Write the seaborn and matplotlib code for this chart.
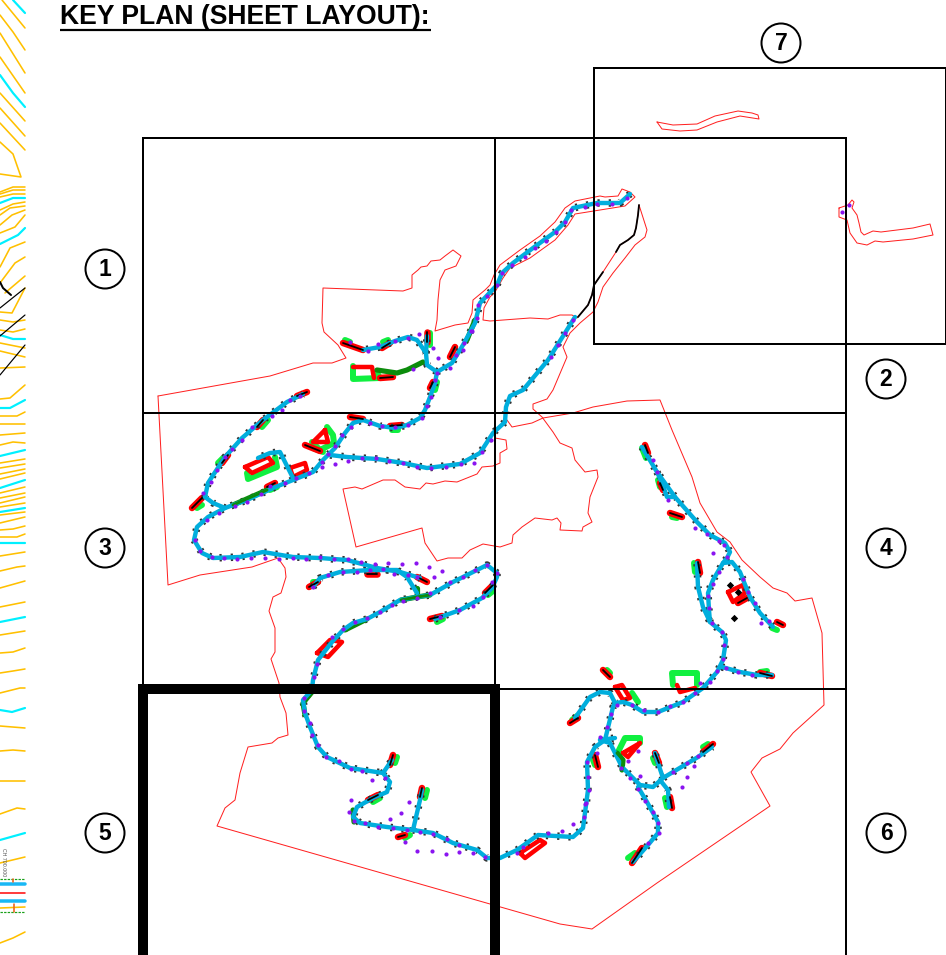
import matplotlib
matplotlib.use('Agg')
import matplotlib.pyplot as plt
import pandas as pd
import seaborn as sns
from matplotlib.patches import Circle

W, H = 946, 955

title = 'KEY PLAN (SHEET LAYOUT):'
sheet_labels = ['1', '2', '3', '4', '5', '6', '7']
label_x = [105, 886, 105, 886, 105, 886, 781]
label_y = [269, 379, 548, 548, 833, 833, 43]

sheet_lines = [
    [(143, 688), (143, 138), (846, 138), (846, 955)],
    [(495, 138), (495, 688)],
    [(143, 413), (846, 413)],
    [(495, 689), (846, 689)],
    [(594, 138), (594, 68), (946, 68), (946, 344), (594, 344), (594, 138)],
]
active_sheet = [(143, 955), (143, 689), (495, 689), (495, 955)]

boundary_main = [
    (158, 396), (270, 376), (313, 363), (332, 363), (346, 358), (338, 345), (324, 332), (322, 323),
    (323, 288), (403, 291), (412, 288), (412, 275), (418, 270), (421, 267), (427, 266), (431, 261),
    (440, 260), (445, 256), (453, 250), (461, 256), (456, 266), (445, 270), (440, 280), (438, 300),
    (437, 320), (435, 331), (455, 325), (468, 323), (472, 313), (473, 300), (485, 290), (490, 285),
    (494, 275), (500, 265), (520, 250), (540, 236), (555, 222), (565, 208), (575, 201), (600, 196),
    (605, 197), (618, 196), (622, 189), (630, 192), (635, 197), (625, 206), (600, 210), (575, 214),
    (568, 225), (555, 240), (530, 258), (510, 268), (503, 278), (495, 292), (490, 297), (484, 308),
    (483, 320), (490, 321), (530, 318), (548, 319), (560, 315), (572, 315), (577, 318), (588, 305),
    (592, 295), (594, 285), (603, 272), (616, 252), (620, 245), (628, 240), (634, 235), (636, 228),
    (638, 215), (639, 205), (647, 230), (645, 237), (635, 245), (625, 258), (613, 273), (603, 287),
    (598, 302), (593, 312), (580, 323), (570, 333), (563, 347), (567, 357), (553, 390), (547, 399),
    (533, 404), (533, 409), (542, 417), (553, 432), (560, 443), (572, 448), (575, 460), (585, 472),
    (597, 470), (598, 477), (590, 497), (588, 513), (592, 522), (583, 527), (582, 531), (560, 530),
    (561, 523), (557, 518), (552, 520), (535, 518), (522, 527), (513, 535), (512, 543), (500, 547),
    (483, 544), (470, 550), (462, 558), (452, 558), (448, 558), (437, 561), (425, 543), (422, 528),
    (356, 547), (343, 489), (355, 487), (362, 489), (383, 480), (395, 480), (405, 487), (420, 489),
    (426, 483), (433, 484), (445, 481), (457, 482), (477, 474), (482, 467), (493, 466), (500, 463),
    (500, 453), (507, 449), (506, 440), (495, 438),
]
boundary_north = [
    (507, 420), (512, 427), (532, 423), (543, 418), (573, 413), (593, 407), (627, 401), (660, 400),
    (672, 430), (692, 477), (700, 503), (717, 532), (730, 542), (742, 560), (760, 577), (773, 588),
    (787, 593), (795, 601), (812, 598), (822, 633), (824, 705), (793, 733), (780, 749), (762, 758),
    (751, 772), (770, 806), (657, 883), (592, 929), (560, 924), (217, 826), (225, 808), (235, 800),
    (240, 773), (248, 747), (272, 743), (278, 738), (288, 735), (286, 713), (280, 697), (279, 683),
    (271, 659), (275, 652), (275, 628), (269, 611), (273, 597), (281, 593), (286, 577), (285, 568),
    (278, 558), (252, 567), (200, 575), (168, 585), (158, 396),
]
boundary_sliver = [
    (657, 122), (673, 125), (697, 124), (715, 116), (738, 111), (752, 113), (758, 115), (759, 119),
    (740, 116), (717, 122), (697, 130), (680, 131), (662, 129), (657, 122),
]
boundary_east = [
    (839, 208), (848, 205), (852, 200), (854, 202), (852, 208), (857, 215), (859, 223), (861, 232),
    (864, 235), (873, 231), (881, 232), (913, 228), (930, 224), (933, 235), (913, 239), (883, 242),
    (875, 241), (867, 245), (857, 243), (850, 233), (847, 220), (839, 217), (839, 208),
]
black_reach_a = [(639, 205), (638, 215), (636, 228), (634, 235), (628, 240), (620, 245), (616, 252)]
black_reach_b = [(603, 272), (594, 285), (592, 295), (588, 305), (578, 317)]

roads = [
    # north corridor down to the first junction
    [(630, 194), (620, 203), (597, 203), (573, 208), (565, 222), (555, 232), (533, 248), (513, 263),
     (502, 273), (497, 285), (480, 303), (475, 323), (463, 345), (452, 363), (437, 372), (427, 365),
     (426, 353), (417, 340), (408, 337), (395, 341), (380, 347), (363, 350)],
    [(426, 353), (427, 336)],
    [(437, 372), (435, 383), (430, 397), (425, 410), (420, 418), (407, 425), (395, 428), (380, 426),
     (363, 420), (353, 423), (345, 433), (335, 448), (323, 460), (313, 472), (293, 480), (273, 488),
     (247, 500), (225, 508), (208, 517), (197, 527), (194, 540), (202, 553), (213, 558), (240, 557),
     (263, 552), (293, 557), (320, 558), (347, 560), (377, 568), (400, 572), (420, 578)],
    [(330, 455), (347, 457), (377, 459), (403, 463), (427, 468), (460, 464), (480, 453), (493, 433),
     (505, 422), (506, 407), (510, 396), (523, 390), (548, 360), (565, 333), (575, 317)],
    [(225, 508), (213, 503), (205, 497), (208, 483), (225, 457), (242, 438), (263, 420), (287, 402),
     (303, 394)],
    [(293, 478), (280, 452), (270, 453), (258, 458)],
    # middle road and the long run to the south-east
    [(313, 587), (320, 578), (340, 572), (370, 570), (397, 570), (407, 577), (417, 593)],
    [(497, 573), (487, 565), (453, 582), (430, 595), (417, 597), (400, 600), (380, 612), (367, 619),
     (353, 623), (343, 630), (332, 642), (318, 660), (313, 680), (312, 690), (303, 700), (305, 713),
     (310, 727), (318, 747), (327, 757), (350, 768), (383, 773), (390, 782), (387, 792), (373, 798),
     (357, 807), (353, 817), (360, 823), (387, 827), (413, 830), (433, 833), (453, 843), (477, 850),
     (487, 858), (500, 858), (517, 850), (538, 835), (573, 837), (583, 828), (588, 790), (587, 762),
     (595, 747), (605, 740), (613, 707), (615, 703)],
    [(435, 619), (460, 610), (482, 598), (492, 588), (497, 577), (497, 573)],
    [(383, 773), (392, 760)],
    [(413, 830), (420, 800), (422, 790)],
    # east side
    [(575, 718), (590, 697), (600, 692), (610, 693), (615, 703), (623, 702), (632, 705), (643, 712),
     (658, 712), (683, 702), (703, 688), (717, 672), (723, 660), (726, 640), (722, 632), (710, 622),
     (703, 607), (698, 587), (697, 563)],
    [(710, 622), (709, 610), (708, 593), (713, 580), (723, 563), (732, 562), (740, 572), (750, 597),
     (760, 613), (773, 627)],
    [(642, 447), (657, 472), (675, 497), (697, 522), (710, 535), (725, 543), (730, 552), (727, 558),
     (723, 563)],
    [(657, 472), (662, 483), (667, 497), (675, 497)],
    [(722, 667), (740, 672), (757, 675), (772, 675)],
    [(600, 740), (610, 743), (615, 753), (622, 767), (640, 785), (653, 787), (663, 778), (698, 757),
     (712, 747)],
    [(600, 740), (615, 738)],
    [(663, 778), (658, 763), (655, 753)],
    [(660, 780), (668, 790), (669, 807)],
    [(638, 787), (647, 802), (658, 822), (658, 833), (648, 845), (633, 862)],
]

green_edge = [
    [(417, 588), (417, 597)], [(312, 692), (303, 703), (305, 715)], [(353, 810), (354, 822)],
    [(475, 320), (467, 340)], [(345, 630), (367, 619)],
]
green_access = [
    [(401, 600), (417, 597), (430, 595)], [(377, 370), (397, 373), (407, 370), (423, 362)],
    [(233, 505), (267, 490)], [(617, 753), (623, 760), (622, 770)],
]

# pads at the end of each spur: red block with a black spine
red_pads = [
    [(343, 343), (363, 350)], [(382, 348), (390, 343)], [(427, 332), (427, 342)],
    [(450, 357), (455, 347)], [(433, 382), (430, 388)], [(297, 396), (307, 392)],
    [(257, 427), (263, 420)], [(222, 463), (228, 455)], [(192, 508), (202, 498)],
    [(267, 487), (275, 483)], [(350, 417), (363, 419)], [(390, 426), (402, 425)],
    [(380, 378), (393, 377)], [(305, 445), (320, 451)], [(367, 574), (377, 574)],
    [(417, 577), (427, 582)], [(309, 587), (318, 582)], [(430, 619), (442, 616)],
    [(485, 593), (493, 585)], [(390, 765), (393, 755)], [(368, 800), (378, 795)],
    [(420, 797), (422, 788)], [(398, 837), (405, 835)], [(570, 723), (578, 718)],
    [(603, 670), (610, 677)], [(760, 673), (772, 676)], [(595, 755), (598, 767)],
    [(655, 753), (659, 763)], [(670, 797), (672, 808)], [(703, 752), (713, 744)],
    [(632, 863), (642, 848)], [(777, 622), (783, 625)], [(645, 445), (648, 453)],
    [(660, 483), (663, 490)], [(670, 513), (682, 517)], [(698, 562), (700, 573)],
    [(738, 603), (747, 598)],
]
red_loops = [
    [(245, 467), (268, 457), (273, 463), (252, 473), (245, 467)],
    [(290, 468), (305, 463), (307, 470), (293, 477), (290, 468)],
    [(325, 430), (313, 442), (328, 442), (325, 430)],
    [(353, 367), (372, 367), (374, 378)],
    [(317, 653), (330, 640), (342, 642), (328, 657), (317, 653)],
    [(520, 853), (540, 840), (545, 843), (525, 858), (520, 853)],
    [(615, 687), (622, 685), (630, 698), (623, 700), (615, 687)],
    [(677, 685), (680, 692), (695, 688)],
    [(623, 753), (640, 743), (628, 757), (623, 753)],
    [(728, 592), (743, 585), (745, 593), (733, 602), (728, 592)],
]
green_pads = [
    [(345, 340), (350, 342)], [(383, 342), (388, 340)], [(430, 333), (430, 345)],
    [(437, 382), (435, 390)], [(262, 427), (268, 420)], [(218, 463), (223, 458)],
    [(197, 508), (202, 505)], [(270, 490), (277, 487)], [(392, 430), (398, 430)],
    [(313, 448), (323, 452)], [(313, 582), (318, 582)], [(437, 622), (443, 619)],
    [(488, 595), (493, 591)], [(395, 763), (397, 757)], [(373, 802), (380, 798)],
    [(425, 798), (427, 790)], [(405, 838), (410, 835)], [(572, 720), (577, 716)],
    [(607, 670), (610, 673)], [(632, 693), (638, 702)], [(760, 672), (767, 671)],
    [(593, 760), (595, 765)], [(653, 758), (655, 763)], [(665, 798), (667, 807)],
    [(703, 747), (708, 744)], [(628, 858), (635, 853)], [(772, 628), (777, 630)],
    [(642, 448), (646, 458)], [(658, 480), (660, 487)], [(672, 517), (677, 518)],
    [(694, 563), (695, 572)],
]
green_loops = [
    [(353, 366), (353, 379), (380, 378), (377, 373)],
    [(247, 473), (248, 479), (277, 467), (275, 457)],
    [(327, 427), (333, 435), (334, 443), (320, 450), (312, 442)],
    [(673, 685), (672, 673), (697, 673), (697, 685)],
    [(618, 752), (625, 738), (640, 738), (640, 743)],
]

# survey markers standing off the roads
purple_x = [842, 849, 419, 433, 438, 282, 335, 322, 402, 388, 416, 429, 442, 434, 394, 372, 351, 349,
            409, 401, 390, 405, 417, 432, 446, 459, 548, 562, 573, 694, 687, 682, 640, 628, 638, 713, 695]
purple_y = [212, 205, 334, 348, 358, 410, 464, 467, 564, 563, 563, 567, 571, 577, 574, 780, 800, 812,
            802, 813, 819, 842, 851, 851, 854, 852, 833, 831, 824, 766, 777, 787, 776, 761, 751, 553, 528]

# survey markers on the roads
road_markers = [
    (348, 461), (362, 458), (376, 458), (389, 461), (403, 463), (417, 467), (431, 468), (446, 467),
    (461, 464), (474, 463), (482, 452), (491, 440), (195, 540), (200, 551), (212, 557), (224, 558),
    (237, 559), (251, 558), (265, 558), (279, 559), (293, 558), (306, 559), (320, 557), (334, 559),
    (348, 559), (361, 562), (375, 564), (326, 757), (339, 761), (351, 769), (362, 771), (385, 778),
    (354, 821), (365, 823), (378, 827), (393, 828), (407, 830), (420, 832), (433, 834), (447, 839),
    (459, 845), (473, 853), (485, 857), (517, 853), (523, 847), (585, 804), (584, 817), (589, 790),
    (588, 777), (587, 762), (627, 198), (612, 204), (597, 204), (585, 207), (571, 210), (565, 222),
    (556, 232), (546, 241), (535, 248), (525, 257), (512, 265), (502, 273), (497, 285), (487, 296),
    (478, 305), (477, 318), (471, 331), (464, 343), (456, 355), (573, 320), (565, 333), (558, 345),
    (551, 357), (417, 598), (403, 601), (392, 605), (380, 612), (367, 618), (355, 622), (343, 629),
    (332, 637), (317, 664), (314, 677), (304, 698), (304, 711), (310, 723), (312, 735), (318, 745),
    (343, 572), (357, 572), (383, 569), (653, 460), (657, 472), (668, 500), (707, 534), (719, 541),
    (724, 545), (727, 557), (719, 572), (713, 584), (708, 596), (709, 608), (712, 623), (722, 632),
    (724, 645), (723, 659), (717, 671), (710, 682), (700, 683), (743, 579), (748, 592), (755, 603),
    (761, 623), (769, 621), (726, 668), (738, 672), (752, 675), (695, 693), (683, 702), (670, 706),
    (658, 712), (644, 710), (632, 705), (617, 705), (611, 714), (607, 727), (600, 737), (597, 753),
    (586, 803), (621, 768), (630, 778), (638, 789), (645, 801), (653, 812), (658, 823), (659, 833),
    (648, 843), (673, 772), (687, 763), (698, 756), (203, 493), (211, 482), (217, 470), (225, 457),
    (232, 449), (242, 440), (252, 427), (272, 416), (290, 400), (300, 396), (207, 520), (219, 513),
    (235, 506), (247, 502), (261, 494), (270, 486), (285, 483), (296, 478), (309, 473), (322, 462),
    (328, 454), (335, 446), (342, 435), (351, 427), (370, 423), (382, 426), (395, 427), (408, 425),
    (422, 418), (427, 406), (431, 397), (435, 380), (437, 373), (413, 369), (350, 342), (368, 351),
    (378, 344), (395, 341), (408, 338), (450, 368), (463, 350), (472, 331), (313, 587), (328, 575),
    (370, 570), (408, 575), (417, 577), (440, 617), (459, 610), (473, 606), (483, 597), (492, 582),
    (497, 573), (430, 593), (450, 582), (463, 577), (475, 570), (487, 565),
]
black_blots_x = [734, 730, 738]
black_blots_y = [618, 585, 592]

contours_orange = [
    [(2, 0), (25, 28)], [(0, 15), (13, 32), (25, 50)], [(0, 33), (25, 73)], [(0, 57), (25, 93)],
    [(0, 93), (25, 121)], [(0, 108), (25, 136)], [(0, 123), (25, 150)],
    [(0, 142), (13, 154), (21, 177), (0, 174)],
    [(0, 192), (13, 187), (25, 187)], [(0, 194), (13, 190), (25, 190)], [(0, 197), (13, 194), (25, 194)],
    [(0, 210), (13, 204), (25, 202)], [(0, 215), (10, 208), (25, 206)], [(0, 225), (12, 215), (25, 210)],
    [(0, 233), (15, 227), (25, 215)], [(0, 267), (10, 248), (25, 242)], [(0, 283), (15, 263), (25, 257)],
    [(5, 293), (25, 276)], [(0, 312), (12, 313), (25, 288)], [(0, 320), (13, 322), (25, 320)],
    [(0, 330), (13, 332), (25, 329)], [(0, 343), (25, 348)], [(0, 351), (25, 357)], [(0, 368), (25, 367)],
    [(0, 399), (10, 398), (25, 385)], [(0, 416), (17, 416), (25, 412)], [(0, 424), (25, 424)],
    [(0, 435), (25, 433)], [(0, 445), (13, 442), (25, 443)], [(0, 463), (25, 459)], [(0, 468), (25, 464)],
    [(0, 474), (25, 469)], [(0, 479), (25, 473)], [(0, 493), (25, 487)], [(0, 498), (25, 493)],
    [(0, 503), (25, 497)], [(0, 507), (25, 503)], [(0, 515), (25, 512)], [(0, 523), (25, 517)],
    [(0, 530), (13, 529), (25, 526)], [(0, 537), (17, 537), (25, 534)], [(0, 556), (25, 552)],
    [(0, 571), (17, 567), (25, 566)], [(0, 588), (25, 581)], [(0, 607), (25, 602)], [(0, 635), (25, 631)],
    [(0, 653), (13, 652), (25, 648)], [(0, 673), (13, 671), (25, 669)], [(0, 693), (20, 688), (25, 688)],
    [(0, 726), (25, 728)], [(0, 751), (13, 750), (25, 751)], [(0, 781), (25, 781)],
    [(0, 814), (17, 808), (25, 809)], [(0, 863), (25, 857)], [(0, 908), (25, 907)],
    [(0, 943), (13, 938), (25, 932)],
]
contours_cyan = [
    [(13, 0), (25, 13)], [(0, 75), (13, 93), (25, 107)], [(0, 203), (13, 198), (25, 198)],
    [(0, 244), (18, 235), (25, 228)], [(0, 335), (13, 339), (25, 339)], [(0, 408), (10, 408), (25, 400)],
    [(0, 456), (25, 450)], [(0, 488), (25, 480)], [(0, 512), (25, 508)], [(0, 543), (25, 543)],
    [(0, 622), (25, 617)], [(0, 710), (12, 712), (25, 708)], [(0, 840), (25, 833)],
]
section_black = [[(0, 308), (25, 288)], [(0, 336), (25, 315)], [(0, 375), (25, 345)]]
section_arc = [(0, 282), (3, 288), (11, 295)]
section_blue = [[(0, 884), (25, 884)], [(0, 901), (25, 901)]]
section_red = [[(0, 893), (25, 893)]]
section_green = [[(0, 879), (25, 879)], [(0, 912), (25, 912)]]
section_tick = [[(14, 904), (14, 912)], [(13, 879), (13, 882)]]
chainage = 'CH 700.000'


def px(n):
    # line widths below are given in picture pixels
    return n * 0.72


def draw(points, color, width, ax, **kws):
    df = pd.DataFrame(points, columns=['x', 'y'])
    kws.setdefault('solid_capstyle', 'round')
    kws.setdefault('solid_joinstyle', 'round')
    sns.lineplot(data=df, x='x', y='y', sort=False, estimator=None, errorbar=None,
                 color=color, linewidth=px(width), ax=ax, **kws)


sns.set_theme(style='white')
plt.rcParams['font.family'] = ['Liberation Sans', 'DejaVu Sans']

fig = plt.figure(figsize=(W / 100, H / 100), dpi=100)
ax = fig.add_axes([0, 0, 1, 1])

# strip of the neighbouring drawing on the left edge
for c in contours_orange:
    draw(c, '#ffc000', 1.6, ax)
for c in contours_cyan:
    draw(c, '#00f0ff', 2.2, ax)
for c in section_black:
    draw(c, 'black', 1.2, ax)
draw(section_arc, 'black', 2, ax)
for c in section_blue:
    draw(c, '#19b8f5', 3.5, ax)
for c in section_red:
    draw(c, '#ff1010', 1.6, ax)
for c in section_green:
    draw(c, '#18a018', 1.2, ax, linestyle=(0, (2, 1)))
for c in section_tick:
    draw(c, '#f06018', 1.6, ax)
ax.text(3, 848, chainage, rotation=-90, fontsize=3.8, color='#555555', ha='center', va='top')

# site boundary
for b in [boundary_main, boundary_north, boundary_sliver, boundary_east]:
    draw(b, '#ff2020', 1.0, ax)

# pads and car parks sit under the road
for p in green_pads + green_loops:
    draw(p, '#10f040', 6, ax)
for p in red_pads:
    draw(p, '#ff0000', 6.5, ax)
for p in red_loops:
    draw(p, '#ff0000', 4.5, ax)

for r in roads:
    draw(r, '#333333', 7.5, ax, linestyle=(0, (0.3, 1.2)), dash_capstyle='butt')
for r in green_edge + green_access:
    draw(r, '#0c8c0c', 5.2, ax)
for r in roads:
    draw(r, '#00aedd', 4.4, ax)
for r in green_access:
    draw(r, '#0c8c0c', 3, ax)

for p in red_pads:
    draw(p, 'black', 1.8, ax)
draw(black_reach_a, 'black', 1.8, ax)
draw(black_reach_b, 'black', 1.8, ax)
sns.scatterplot(x=black_blots_x, y=black_blots_y, color='black', s=14, marker='D', linewidth=0, ax=ax, zorder=4)

road_pts = pd.DataFrame(road_markers, columns=['x', 'y'])
sns.scatterplot(data=road_pts, x='x', y='y', color='#8a14f0', s=9, linewidth=0, ax=ax, zorder=5)
sns.scatterplot(x=purple_x, y=purple_y, color='#8a14f0', s=9, linewidth=0, ax=ax, zorder=5)

# sheet grid on top
for s in sheet_lines:
    draw(s, 'black', 2, ax, solid_capstyle='projecting', solid_joinstyle='miter', zorder=6)
draw(active_sheet, 'black', 10, ax, solid_capstyle='butt', solid_joinstyle='miter', zorder=7)

for lab, x, y in zip(sheet_labels, label_x, label_y):
    ax.add_patch(Circle((x, y), 19.5, fill=False, ec='black', lw=px(2)))
    ax.text(x, y + 0.5, lab, fontsize=16.5, fontweight='bold', ha='center', va='center', color='black')

ax.text(60, 24, title, fontsize=19.1, fontweight='bold', ha='left', va='baseline', color='black')
draw([(60, 30), (431, 30)], 'black', 2.2, ax, solid_capstyle='butt')

ax.set_xlim(0, W)
ax.set_ylim(H, 0)
ax.axis('off')
fig.savefig('out.png', dpi=100, facecolor='white')
